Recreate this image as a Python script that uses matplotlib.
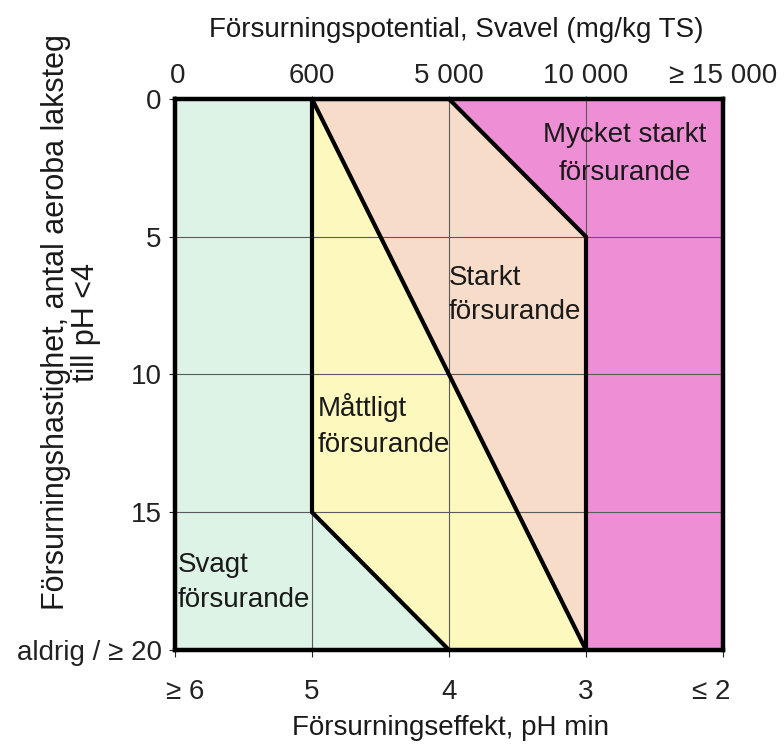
import matplotlib
matplotlib.use("Agg")
import matplotlib.pyplot as plt
from matplotlib.transforms import ScaledTranslation

plt.rcParams['font.family'] = ['Liberation Sans', 'DejaVu Sans']

# ---- data ----
ph_positions = [0, 1, 2, 3, 4]
ph_labels = ["≥ 6", "5", "4", "3", "≤ 2"]
sulfur_labels = ["0", "600", "5 000", "10 000", "≥ 15 000"]
step_ticks = [0, 5, 10, 15, 20]
step_labels = ["0", "5", "10", "15", "aldrig / ≥ 20"]

# zone polygons (x = pH class index, y = number of leaching steps)
svagt_x = [0, 1, 1, 2, 0]
svagt_y = [0, 0, 15, 20, 20]
mattligt_x = [1, 3, 2, 1]
mattligt_y = [0, 20, 20, 15]
starkt_x = [1, 2, 3, 3]
starkt_y = [0, 0, 5, 20]
mycket_x = [2, 4, 4, 3, 3]
mycket_y = [0, 0, 20, 20, 5]

# boundary lines between zones
bound_a_x = [2, 1, 1, 2]
bound_a_y = [20, 15, 0, 0]
bound_b_x = [1, 3]
bound_b_y = [0, 20]
bound_c_x = [2, 3, 3]
bound_c_y = [0, 5, 20]

zone_colors = {"svagt": "#ddf3e6", "mattligt": "#fdf8bd", "starkt": "#f8dcca", "mycket": "#ee8fd6"}

# ---- figure ----
fig = plt.figure(figsize=(7.84, 7.49), dpi=100)
W, H = 784, 749
ax = fig.add_axes([175 / W, 1 - 650 / H, (723 - 175) / W, (650 - 99) / H])
ax.set_xlim(0, 4)
ax.set_ylim(20, 0)

ax.fill(svagt_x, svagt_y, color=zone_colors["svagt"], lw=0, zorder=1)
ax.fill(mattligt_x, mattligt_y, color=zone_colors["mattligt"], lw=0, zorder=1)
ax.fill(starkt_x, starkt_y, color=zone_colors["starkt"], lw=0, zorder=1)
ax.fill(mycket_x, mycket_y, color=zone_colors["mycket"], lw=0, zorder=1)

lw_b = 3.0
for bx, by in [(bound_a_x, bound_a_y), (bound_b_x, bound_b_y), (bound_c_x, bound_c_y)]:
    ax.plot(bx, by, color="black", lw=lw_b, solid_capstyle="butt", solid_joinstyle="miter", zorder=3)

ax.set_axisbelow(False)
ax.grid(True, color="#5a5a5a", lw=0.8, zorder=2)

for s in ax.spines.values():
    s.set_linewidth(3.2)
    s.set_zorder(4)

fs = 20
ax.set_xticks(ph_positions)
ax.set_xticklabels(ph_labels, fontsize=fs)
ax.set_yticks(step_ticks)
ax.set_yticklabels(step_labels, fontsize=fs)
ax.tick_params(axis="x", direction="out", length=5, width=0.8, pad=16, colors="#222222")
ax.tick_params(axis="y", direction="out", length=4.5, width=0.8, pad=5, colors="#222222")

# shift outer bottom labels inward slightly
tl = ax.get_xticklabels()
tl[0].set_transform(tl[0].get_transform() + ScaledTranslation(10 / 100, 0, fig.dpi_scale_trans))
tl[-1].set_transform(tl[-1].get_transform() + ScaledTranslation(-12 / 100, 0, fig.dpi_scale_trans))

top = ax.secondary_xaxis("top")
top.set_xticks(ph_positions)
top.set_xticklabels(sulfur_labels, fontsize=fs)
top.tick_params(direction="out", length=2, width=0.8, pad=5, colors="#222222")
for s in top.spines.values():
    s.set_visible(False)
ttl = top.get_xticklabels()
ttl[0].set_transform(ttl[0].get_transform() + ScaledTranslation(3 / 100, 0, fig.dpi_scale_trans))

# zone labels
tc = "#1a1a1a"
ax.text(3.28, 2.0, "Mycket starkt\nförsurande", ha="center", va="center", multialignment="center",
        fontsize=fs, color=tc, linespacing=1.62, zorder=5)
ax.text(2.0, 7.1, "Starkt\nförsurande", ha="left", va="center", multialignment="left",
        fontsize=fs, color=tc, linespacing=1.4, zorder=5)
ax.text(1.04, 11.85, "Måttligt\nförsurande", ha="left", va="center", multialignment="left",
        fontsize=fs, color=tc, linespacing=1.48, zorder=5)
ax.text(0.02, 17.55, "Svagt\nförsurande", ha="left", va="center", multialignment="left",
        fontsize=fs, color=tc, linespacing=1.44, zorder=5)

# axis titles
fig.text(456 / W, 1 - 30 / H, "Försurningspotential, Svavel (mg/kg TS)", ha="center", va="center",
         fontsize=fs, color=tc)
fig.text(450 / W, 1 - 728 / H, "Försurningseffekt, pH min", ha="center", va="center",
         fontsize=fs, color=tc)
fig.text(71 / W, 1 - 322 / H, "Försurningshastighet, antal aeroba laksteg\ntill pH <4", ha="center",
         va="center", rotation=90, multialignment="center", fontsize=22, color=tc, linespacing=1.03)

fig.savefig("out.png", dpi=100)
